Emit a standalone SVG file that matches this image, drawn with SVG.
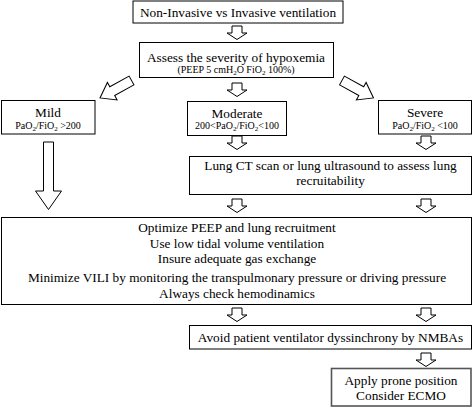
<svg xmlns="http://www.w3.org/2000/svg" width="473" height="408" viewBox="0 0 473 408">
<defs>
<path id="dn" d="M-5,0 H5 V7 H10 L0,13.5 L-10,7 H-5 Z"/>
</defs>
<style>
.box{fill:#fff;stroke:#000;stroke-width:1}
.gbox{fill:#fff;stroke:#555;stroke-width:1.6}
.arr{fill:#fff;stroke:#000;stroke-width:1}
text{fill:#000;text-anchor:middle}
.t{font-size:13.3px}
.s{font-size:10px}
.sub{font-size:7px}
</style>
<rect width="473" height="408" fill="#fff"/>
<g id="connectors">
<use href="#dn" class="arr" x="237" y="26"/>
<use href="#dn" class="arr" x="237" y="83"/>
<path class="arr" d="M0,-5 H22 V-10 L36,0 L22,10 V5 H0 Z" transform="translate(131.5,80.5) rotate(151)"/>
<path class="arr" d="M0,-5 H22 V-10 L36,0 L22,10 V5 H0 Z" transform="translate(342,80.5) rotate(29)"/>
<path class="arr" d="M43.5,142 H53.5 V191 H61.5 L48.5,209.5 L35.5,191 H43.5 Z"/>
<use href="#dn" class="arr" x="237" y="136"/>
<use href="#dn" class="arr" x="426" y="136"/>
<use href="#dn" class="arr" x="237" y="199"/>
<use href="#dn" class="arr" x="426" y="199"/>
<use href="#dn" class="arr" x="237" y="308"/>
<use href="#dn" class="arr" x="426" y="308"/>
<use href="#dn" class="arr" x="426" y="353"/>
</g>
<g font-family="'Liberation Serif', 'DejaVu Serif', serif">
<g id="n1">
<rect class="box" x="133" y="1" width="210" height="22"/>
<text class="t" x="238" y="17">Non-Invasive vs Invasive ventilation</text>
</g>
<g id="n2">
<rect class="box" x="139.5" y="42.5" width="194" height="35"/>
<text class="t" x="236" y="61.5">Assess the severity of hypoxemia</text>
<text class="s" x="236" y="73">(PEEP 5 cmH<tspan class="sub" dy="2">2</tspan><tspan dy="-2">O FiO</tspan><tspan class="sub" dy="2">2</tspan><tspan dy="-2"> 100%)</tspan></text>
</g>
<g id="mild">
<rect class="box" x="1.5" y="100.5" width="93.5" height="33.5"/>
<text class="t" x="48" y="117">Mild</text>
<text class="s" x="48" y="128.5">PaO<tspan class="sub" dy="2">2</tspan><tspan dy="-2">/FiO</tspan><tspan class="sub" dy="2">2</tspan><tspan dy="-2"> &gt;200</tspan></text>
</g>
<g id="moderate">
<rect class="box" x="187.5" y="101.5" width="99" height="34"/>
<text class="t" x="237" y="117.5">Moderate</text>
<text class="s" x="237" y="129">200&lt;PaO<tspan class="sub" dy="2">2</tspan><tspan dy="-2">/FiO</tspan><tspan class="sub" dy="2">2</tspan><tspan dy="-2">&lt;100</tspan></text>
</g>
<g id="severe">
<rect class="box" x="378.5" y="100.5" width="93" height="33.5"/>
<text class="t" x="425" y="117">Severe</text>
<text class="s" x="425" y="128.5">PaO<tspan class="sub" dy="2">2</tspan><tspan dy="-2">/FiO</tspan><tspan class="sub" dy="2">2</tspan><tspan dy="-2"> &lt;100</tspan></text>
</g>
<g id="lungct">
<rect class="box" x="189.5" y="156.5" width="282" height="38"/>
<text class="t" x="330.5" y="170">Lung CT scan or lung ultrasound to assess lung</text>
<text class="t" x="330.5" y="184.5">recruitability</text>
</g>
<g id="main">
<rect class="box" x="1.5" y="217.5" width="470" height="87"/>
<text class="t" x="237" y="232">Optimize PEEP and lung recruitment</text>
<text class="t" x="237" y="247.5">Use low tidal volume ventilation</text>
<text class="t" x="237" y="263">Insure adequate gas exchange</text>
<text class="t" x="237" y="282">Minimize VILI by monitoring the transpulmonary pressure or driving pressure</text>
<text class="t" x="237" y="297.5">Always check hemodinamics</text>
</g>
<g id="nmba">
<rect class="box" x="189.5" y="325.5" width="282" height="23.5"/>
<text class="t" x="330.5" y="341.5">Avoid patient ventilator dyssinchrony by NMBAs</text>
</g>
<g id="prone">
<rect class="gbox" x="331.5" y="368.5" width="139.5" height="37.5"/>
<text class="t" x="401" y="385">Apply prone position</text>
<text class="t" x="401" y="400">Consider ECMO</text>
</g>
</g>
</svg>
